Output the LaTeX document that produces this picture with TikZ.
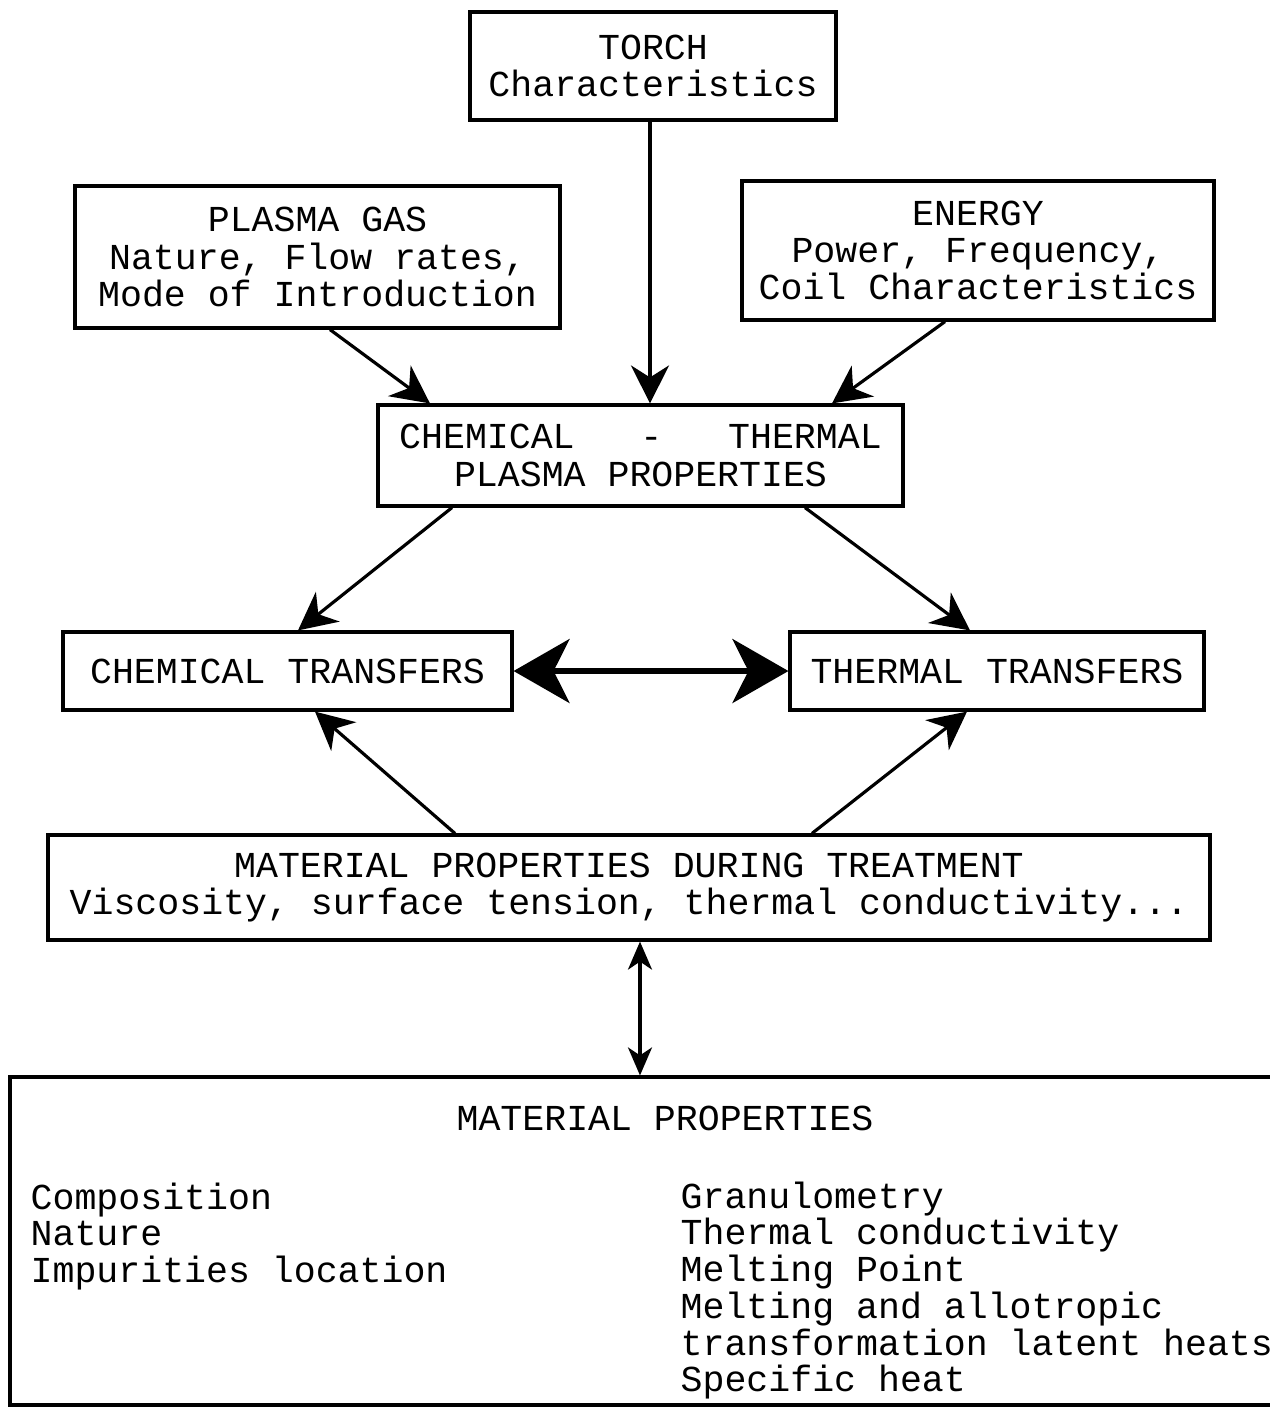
\documentclass[tikz,border=0pt]{standalone}
\usepackage{fontspec}
\setmainfont{Liberation Mono}
\usetikzlibrary{arrows.meta,calc}

\begin{document}
\begin{tikzpicture}[
    box/.style={draw, line width=0.9pt, inner sep=0pt, align=center, font=\fontsize{10.4}{10.6}\selectfont},
    txt/.style={inner sep=0pt, align=left, font=\fontsize{10.4}{10.45}\selectfont},
    arr/.style={-{Stealth[length=0.38cm, width=0.38cm, inset=0.12cm]}, line width=0.9pt},
    dbl/.style={{Stealth[length=0.56cm, width=0.64cm, inset=0.16cm]}-{Stealth[length=0.56cm, width=0.64cm, inset=0.16cm]}, line width=1.5pt},
    vdbl/.style={{Stealth[length=0.28cm, width=0.24cm, inset=0.08cm]}-{Stealth[length=0.28cm, width=0.24cm, inset=0.08cm]}, line width=0.9pt}
]
\useasboundingbox (0,0) rectangle (12.7,-14.1);
\clip (0,0) rectangle (12.7,-14.1);
\node[box, minimum width=3.66cm, minimum height=1.08cm] (torch) at (6.53,-0.66) {TORCH\\Characteristics};
\node[box, minimum width=4.85cm, minimum height=1.42cm] (gas) at (3.175,-2.57) {PLASMA GAS\\Nature, Flow rates,\\Mode of Introduction};
\node[box, minimum width=4.72cm, minimum height=1.39cm] (energy) at (9.78,-2.505) {ENERGY\\Power, Frequency,\\Coil Characteristics};
\node[box, minimum width=5.25cm, minimum height=1.01cm] (props) at (6.405,-4.555) {CHEMICAL\ \ \ -\ \ \ THERMAL\\PLASMA PROPERTIES};
\node[box, minimum width=4.49cm, minimum height=0.78cm] (chemtr) at (2.875,-6.71) {CHEMICAL TRANSFERS};
\node[box, minimum width=4.14cm, minimum height=0.78cm] (thermtr) at (9.97,-6.71) {THERMAL TRANSFERS};
\node[box, minimum width=11.62cm, minimum height=1.05cm] (during) at (6.29,-8.875) {MATERIAL PROPERTIES DURING TREATMENT\\Viscosity, surface tension, thermal conductivity...};
\node[box, minimum width=13.4cm, minimum height=3.28cm] (matbox) at (6.80,-12.41) {};

% contents of the lower box
\node[txt] (mattitle) at (6.65,-11.18) {MATERIAL PROPERTIES};
\node[txt, anchor=north west] (matleft) at (0.30,-11.82) {Composition\\Nature\\Impurities location};
\node[txt, anchor=north west] (matright) at (6.80,-11.81) {Granulometry\\Thermal conductivity\\Melting Point\\Melting and allotropic\\transformation latent heats\\Specific heat};

\draw[arr] ([xshift=-0.03cm]torch.south) -- ([xshift=-0.03cm]torch.south |- props.north);
\draw[arr] ([xshift=0.125cm]gas.south) -- ([xshift=-2.105cm]props.north);
\draw[arr] ([xshift=-0.33cm]energy.south) -- ([xshift=1.915cm]props.north);
\draw[arr] ([xshift=-1.885cm]props.south) -- ([xshift=0.105cm]chemtr.north);
\draw[arr] ([xshift=1.645cm]props.south) -- ([xshift=-0.27cm]thermtr.north);
\draw[arr] ([xshift=-1.74cm]during.north) -- ([xshift=0.275cm]chemtr.south);
\draw[arr] ([xshift=1.83cm]during.north) -- ([xshift=-0.30cm]thermtr.south);
\draw[dbl] (chemtr.east) -- (thermtr.west);
\draw[vdbl] ([xshift=0.11cm]during.south) -- ([xshift=0.11cm]during.south |- matbox.north);
\end{tikzpicture}
\end{document}
